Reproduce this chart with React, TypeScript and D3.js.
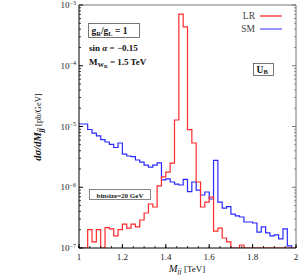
import React from 'react';
import * as d3 from 'd3';

// bin lower edges in TeV (20 GeV bins from 1 to 2 TeV)
const binStart = d3.range(50).map(i => +(1 + i * 0.02).toFixed(2));
const binWidth = 0.02;

// LR (red) histogram, pb/GeV; 0 = below the plotted range
const lrValues = [
  0, 0, 2.0e-7, 1.26e-7, 2.0e-7, 0, 2.17e-7, 2.06e-7, 1.58e-7, 2.0e-7,
  2.48e-7, 2.13e-7, 2.48e-7, 2.22e-7, 2.89e-7, 3.77e-7, 5.3e-7, 4.73e-7, 1.05e-6, 1.48e-6,
  1.78e-6, 2.5e-6, 1.28e-5, 7.1e-4, 4.35e-4, 8.9e-6, 5.35e-6, 1.22e-6, 4.73e-7, 5.7e-7,
  6.9e-7, 1.9e-7, 2.13e-7, 1.46e-7, 1.26e-7, 0, 0, 1.12e-7, 0, 0,
  0, 0, 0, 0, 0, 0, 0, 0, 0, 0,
];

// SM (blue) histogram, pb/GeV
const smValues = [
  1.1e-5, 1.1e-5, 8.93e-6, 7.8e-6, 7.0e-6, 6.1e-6, 5.56e-6, 5.06e-6, 4.51e-6, 5.35e-6,
  3.52e-6, 3.27e-6, 3.2e-6, 2.81e-6, 2.6e-6, 2.32e-6, 2.15e-6, 2.32e-6, 2.51e-6, 1.32e-6,
  1.37e-6, 1.22e-6, 1.13e-6, 1.09e-6, 1.35e-6, 8.5e-7, 1.22e-6, 9.0e-7, 7.45e-7, 8.35e-7,
  6.4e-7, 2.76e-6, 5.7e-7, 4.55e-7, 4.8e-7, 3.6e-7, 3.37e-7, 3.24e-7, 2.68e-7, 2.68e-7,
  2.58e-7, 1.83e-7, 2.22e-7, 1.77e-7, 1.58e-7, 1.64e-7, 1.41e-7, 2.06e-7, 1.08e-7, 0,
];

const xTicks = [1, 1.2, 1.4, 1.6, 1.8, 2];
const yTickExp = [-3, -4, -5, -6, -7];

const W = 301, H = 275;
const L = 79, R = 296, T = 5, B = 248;
const serif = "'Liberation Serif', 'DejaVu Serif', serif";
const RED = '#ff2a2a';
const BLUE = '#2a2aff';

export default function App() {
  const x = d3.scaleLinear().domain([1, 2]).range([L, R]);
  const y = d3.scaleLog().domain([1e-7, 1e-3]).range([B, T]).clamp(true);
  const yv = (v: number) => y(Math.max(v, 1e-7));

  const stepPath = (vals: number[]) => {
    const p = d3.path();
    vals.forEach((v, i) => {
      const x0 = x(binStart[i]);
      const x1 = x(binStart[i] + binWidth);
      if (i === 0) p.moveTo(x0, yv(v));
      else p.lineTo(x0, yv(v));
      p.lineTo(x1, yv(v));
    });
    return p.toString();
  };

  // minor ticks
  const xMinor = d3.range(1, 2.0001, 0.05).map(d => +d.toFixed(2));
  const yMinor: number[] = [];
  for (let e = -7; e < -3; e++) for (let k = 2; k <= 9; k++) yMinor.push(k * Math.pow(10, e));

  return (
    <svg width={W} height={H} style={{ position: 'absolute', left: 0, top: 0, background: '#fff' }}
      fontFamily={serif}>
      <defs>
        <clipPath id="plot"><rect x={L} y={T} width={R - L} height={B - T} /></clipPath>
      </defs>

      <g clipPath="url(#plot)" fill="none" strokeWidth={1.2}>
        <path d={stepPath(smValues)} stroke={BLUE} />
        <path d={stepPath(lrValues)} stroke={RED} />
      </g>

      {/* frame */}
      <line x1={L} x2={R} y1={T} y2={T} stroke="#777" strokeWidth={1} />
      <line x1={R} x2={R} y1={T} y2={B} stroke="#777" strokeWidth={1} />
      <line x1={L} x2={L} y1={T} y2={B} stroke="#000" strokeWidth={1} />
      <line x1={L} x2={R} y1={B} y2={B} stroke="#000" strokeWidth={1} />

      {/* y ticks */}
      {yTickExp.map(e => (
        <g key={e}>
          <line x1={L} x2={L + 4} y1={y(Math.pow(10, e))} y2={y(Math.pow(10, e))} stroke="#000" />
          <line x1={R} x2={R - 4} y1={y(Math.pow(10, e))} y2={y(Math.pow(10, e))} stroke="#777" />
          <text x={L - 3} y={y(Math.pow(10, e)) + 3} textAnchor="end" fontSize={9} fill="#222">
            10<tspan fontSize={6} dy={-3.5}>{'\u2212' + Math.abs(e)}</tspan>
          </text>
        </g>
      ))}
      {yMinor.map((v, i) => (
        <g key={i}>
          <line x1={L} x2={L + 2} y1={y(v)} y2={y(v)} stroke="#000" strokeWidth={0.8} />
          <line x1={R} x2={R - 2} y1={y(v)} y2={y(v)} stroke="#777" strokeWidth={0.8} />
        </g>
      ))}

      {/* x ticks */}
      {xMinor.map((v, i) => (
        <line key={i} x1={x(v)} x2={x(v)} y1={B} y2={B - 2} stroke="#000" strokeWidth={0.8} />
      ))}
      {xTicks.map(v => (
        <g key={v}>
          <line x1={x(v)} x2={x(v)} y1={B} y2={B - 4} stroke="#000" />
          <text x={x(v)} y={B + 12} textAnchor="middle" fontSize={9} fill="#222">{v}</text>
        </g>
      ))}

      {/* axis titles */}
      <text x={187} y={272} textAnchor="middle" fontSize={10.5} fill="#111">
        <tspan fontStyle="italic">M</tspan>
        <tspan fontStyle="italic" fontSize={7.5} dy={2}>jj</tspan>
        <tspan fontSize={9} dy={-2}>{'\u00a0[TeV]'}</tspan>
      </text>
      <text transform="translate(41,127) rotate(-90)" textAnchor="middle" fontSize={10.5} fill="#111">
        <tspan fontStyle="italic" fontWeight="bold">dσ/dM</tspan>
        <tspan fontStyle="italic" fontWeight="bold" fontSize={7.5} dy={2}>jj</tspan>
        <tspan fontSize={8.5} dy={-2}>{'\u00a0[pb/GeV]'}</tspan>
      </text>

      {/* legend */}
      <text x={255} y={19} textAnchor="end" fontSize={9.5} fill="#444">LR</text>
      <line x1={260} x2={282} y1={16} y2={16} stroke={RED} strokeWidth={1.3} />
      <text x={255} y={32} textAnchor="end" fontSize={9.5} fill="#444">SM</text>
      <line x1={260} x2={282} y1={29} y2={29} stroke={BLUE} strokeWidth={1.3} opacity={0.75} />

      {/* annotations */}
      <rect x={88.5} y={23.5} width={51} height={14} fill="#fff" stroke="#555" strokeWidth={0.8} />
      <text x={91.5} y={34} fontSize={9.5} fontWeight="bold" fill="#111">
        g<tspan fontSize={6.5} dy={1.5}>R</tspan><tspan dy={-1.5}>/g</tspan>
        <tspan fontSize={6.5} dy={1.5}>L</tspan><tspan dy={-1.5}> = 1</tspan>
      </text>
      <text x={89} y={51} fontSize={9} fontWeight="bold" fill="#111">
        sin <tspan fontStyle="italic">α</tspan> = −0.15
      </text>
      <text x={89} y={65} fontSize={9} fontWeight="bold" fill="#111">
        M<tspan fontSize={6.5} dy={1.5}>W</tspan><tspan fontSize={5} dy={1}>R</tspan>
        <tspan dy={-2.5}> = 1.5 TeV</tspan>
      </text>

      <rect x={253.5} y={63.5} width={20} height={12} fill="#fff" stroke="#555" strokeWidth={0.8} />
      <text x={256.5} y={72.5} fontSize={9.5} fontWeight="bold" fill="#111">
        U<tspan fontSize={6.5} dy={1.5}>B</tspan>
      </text>

      <rect x={89.5} y={189.5} width={61} height={10} fill="#fff" stroke="#666" strokeWidth={0.8} />
      <text x={120} y={197.5} textAnchor="middle" fontSize={7} fontWeight="bold" fill="#222">binsize=20 GeV</text>
    </svg>
  );
}
